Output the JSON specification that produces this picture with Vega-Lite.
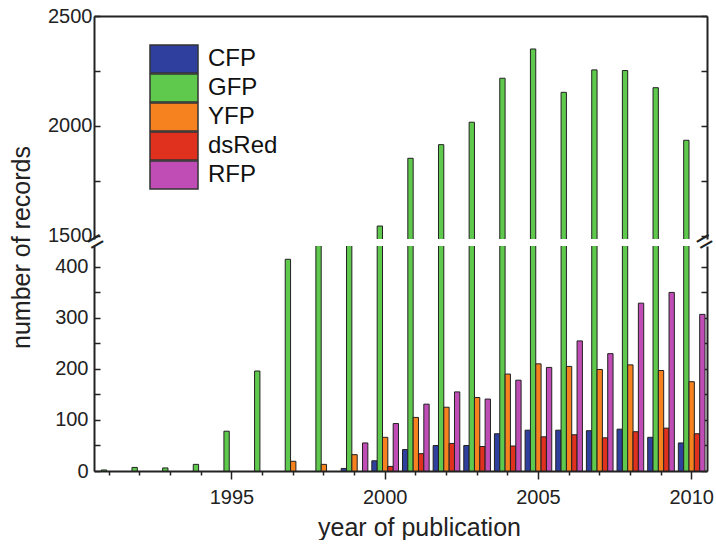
{
  "$schema": "https://vega.github.io/schema/vega-lite/v6.json",
  "padding": {"left": 9, "top": 6, "right": 5, "bottom": 0},
  "bounds": "flush",
  "spacing": 7,
  "config": {
    "view": {"stroke": null},
    "font": "Liberation Sans",
    "axis": {"domainColor": "#222", "tickColor": "#222", "labelColor": "#222", "titleColor": "#222", "labelFont": "Liberation Sans", "titleFont": "Liberation Sans", "titleFontWeight": "normal", "grid": false, "domainWidth": 2, "tickWidth": 1.5}
  },
  "datasets": {
    "rec": [
      {"year": 1999, "series": "CFP", "count": 5},
      {"year": 2000, "series": "CFP", "count": 20},
      {"year": 2001, "series": "CFP", "count": 42},
      {"year": 2002, "series": "CFP", "count": 50},
      {"year": 2003, "series": "CFP", "count": 50},
      {"year": 2004, "series": "CFP", "count": 73},
      {"year": 2005, "series": "CFP", "count": 80},
      {"year": 2006, "series": "CFP", "count": 80},
      {"year": 2007, "series": "CFP", "count": 79},
      {"year": 2008, "series": "CFP", "count": 82},
      {"year": 2009, "series": "CFP", "count": 66},
      {"year": 2010, "series": "CFP", "count": 55},
      {"year": 1991, "series": "GFP", "count": 2},
      {"year": 1992, "series": "GFP", "count": 7},
      {"year": 1993, "series": "GFP", "count": 6},
      {"year": 1994, "series": "GFP", "count": 13},
      {"year": 1995, "series": "GFP", "count": 78},
      {"year": 1996, "series": "GFP", "count": 196},
      {"year": 1997, "series": "GFP", "count": 415},
      {"year": 1998, "series": "GFP", "count": 780},
      {"year": 1999, "series": "GFP", "count": 1150},
      {"year": 2000, "series": "GFP", "count": 1545},
      {"year": 2001, "series": "GFP", "count": 1853},
      {"year": 2002, "series": "GFP", "count": 1915},
      {"year": 2003, "series": "GFP", "count": 2017},
      {"year": 2004, "series": "GFP", "count": 2217},
      {"year": 2005, "series": "GFP", "count": 2350},
      {"year": 2006, "series": "GFP", "count": 2153},
      {"year": 2007, "series": "GFP", "count": 2255},
      {"year": 2008, "series": "GFP", "count": 2252},
      {"year": 2009, "series": "GFP", "count": 2174},
      {"year": 2010, "series": "GFP", "count": 1935},
      {"year": 1997, "series": "YFP", "count": 19},
      {"year": 1998, "series": "YFP", "count": 13},
      {"year": 1999, "series": "YFP", "count": 32},
      {"year": 2000, "series": "YFP", "count": 66},
      {"year": 2001, "series": "YFP", "count": 105},
      {"year": 2002, "series": "YFP", "count": 125},
      {"year": 2003, "series": "YFP", "count": 144},
      {"year": 2004, "series": "YFP", "count": 190},
      {"year": 2005, "series": "YFP", "count": 210},
      {"year": 2006, "series": "YFP", "count": 205},
      {"year": 2007, "series": "YFP", "count": 199},
      {"year": 2008, "series": "YFP", "count": 208},
      {"year": 2009, "series": "YFP", "count": 197},
      {"year": 2010, "series": "YFP", "count": 175},
      {"year": 2000, "series": "dsRed", "count": 9},
      {"year": 2001, "series": "dsRed", "count": 34},
      {"year": 2002, "series": "dsRed", "count": 54},
      {"year": 2003, "series": "dsRed", "count": 48},
      {"year": 2004, "series": "dsRed", "count": 49},
      {"year": 2005, "series": "dsRed", "count": 67},
      {"year": 2006, "series": "dsRed", "count": 71},
      {"year": 2007, "series": "dsRed", "count": 65},
      {"year": 2008, "series": "dsRed", "count": 77},
      {"year": 2009, "series": "dsRed", "count": 84},
      {"year": 2010, "series": "dsRed", "count": 73},
      {"year": 1999, "series": "RFP", "count": 55},
      {"year": 2000, "series": "RFP", "count": 93},
      {"year": 2001, "series": "RFP", "count": 131},
      {"year": 2002, "series": "RFP", "count": 155},
      {"year": 2003, "series": "RFP", "count": 141},
      {"year": 2004, "series": "RFP", "count": 178},
      {"year": 2005, "series": "RFP", "count": 203},
      {"year": 2006, "series": "RFP", "count": 255},
      {"year": 2007, "series": "RFP", "count": 230},
      {"year": 2008, "series": "RFP", "count": 329},
      {"year": 2009, "series": "RFP", "count": 350},
      {"year": 2010, "series": "RFP", "count": 307}
    ]
  },
  "vconcat": [
    {
      "width": 613,
      "height": 223,
      "data": {"name": "rec"},
      "layer": [
        {
          "transform": [{"filter": "datum.count > 1486"}],
          "mark": {"type": "bar", "clip": true, "stroke": "#222", "strokeWidth": 1},
          "encoding": {
            "x": {"field": "year", "type": "ordinal",
              "scale": {"domain": [1991,1992,1993,1994,1995,1996,1997,1998,1999,2000,2001,2002,2003,2004,2005,2006,2007,2008,2009,2010], "paddingInner": 0.13, "paddingOuter": 0.065},
              "axis": {"orient": "top", "ticks": false, "labels": false, "title": null}},
            "xOffset": {"field": "series", "type": "nominal", "scale": {"domain": ["CFP", "GFP", "YFP", "dsRed", "RFP"]}},
            "y": {"field": "count", "type": "quantitative",
              "scale": {"domain": [1486, 2500], "nice": false, "zero": false},
              "axis": {"values": [1500, 1750, 2000, 2250, 2500], "format": "d", "labelExpr": "datum.value % 500 === 0 ? datum.label : ''", "tickSize": -6, "labelPadding": 8, "labelFontSize": 20, "title": "number of records", "titleFontSize": 25, "titleX": -73, "titleY": 231, "titleAngle": -90, "titleAlign": "center", "titleBaseline": "middle"}},
            "color": {"field": "series", "type": "nominal",
              "scale": {"domain": ["CFP", "GFP", "YFP", "dsRed", "RFP"], "range": ["#2e3f9e", "#5ec94c", "#f5821f", "#e0301e", "#c04db5"]},
              "legend": {"orient": "none", "legendX": 68, "legendY": 31, "direction": "vertical", "title": null, "padding": 0, "symbolType": "M-4,-2.33L4,-2.33L4,2.33L-4,2.33Z", "symbolSize": 144, "symbolStrokeColor": "#333", "symbolStrokeWidth": 1.5, "symbolOpacity": 1, "labelFontSize": 24, "labelFont": "Liberation Sans", "labelColor": "#111", "labelOffset": 22, "rowPadding": -26}}
          }
        },
        {
          "transform": [{"filter": "datum.count > 1486"}],
          "mark": {"type": "rule", "opacity": 0},
          "encoding": {
            "y": {"field": "count", "type": "quantitative",
              "scale": {"domain": [1486, 2500], "nice": false, "zero": false},
              "axis": {"orient": "right", "values": [1500, 1750, 2000, 2250, 2500], "labels": false, "tickSize": -6, "title": null}}
          }
        }
      ],
      "resolve": {"axis": {"y": "independent"}}
    },
    {
      "width": 613,
      "height": 225,
      "data": {"name": "rec"},
      "layer": [
        {
          "mark": {"type": "bar", "clip": true, "stroke": "#222", "strokeWidth": 1},
          "encoding": {
            "x": {"field": "year", "type": "ordinal",
              "scale": {"domain": [1991,1992,1993,1994,1995,1996,1997,1998,1999,2000,2001,2002,2003,2004,2005,2006,2007,2008,2009,2010], "paddingInner": 0.13, "paddingOuter": 0.065},
              "axis": {"orient": "bottom", "labelExpr": "datum.value % 5 === 0 ? datum.label : ''", "labelOverlap": false, "labelAngle": 0, "labelFontSize": 20, "labelPadding": 8, "tickSize": {"condition": {"test": "datum.value % 5 === 0", "value": 8}, "value": 4}, "title": "year of publication", "titleFontSize": 25, "titlePadding": 8, "titleX": 325}},
            "xOffset": {"field": "series", "type": "nominal", "scale": {"domain": ["CFP", "GFP", "YFP", "dsRed", "RFP"]}},
            "y": {"field": "count", "type": "quantitative",
              "scale": {"domain": [0, 441], "nice": false},
              "axis": {"values": [0, 50, 100, 150, 200, 250, 300, 350, 400], "format": "d", "labelExpr": "datum.value % 100 === 0 ? datum.label : ''", "tickSize": -6, "labelPadding": 12, "labelFontSize": 20, "title": null}},
            "color": {"field": "series", "type": "nominal",
              "scale": {"domain": ["CFP", "GFP", "YFP", "dsRed", "RFP"], "range": ["#2e3f9e", "#5ec94c", "#f5821f", "#e0301e", "#c04db5"]},
              "legend": null}
          }
        },
        {
          "transform": [{"filter": "datum.count <= 441"}],
          "mark": {"type": "rule", "opacity": 0},
          "encoding": {
            "y": {"field": "count", "type": "quantitative",
              "scale": {"domain": [0, 441], "nice": false},
              "axis": {"orient": "right", "values": [0, 50, 100, 150, 200, 250, 300, 350, 400], "labels": false, "tickSize": -6, "title": null}}
          }
        },
        {
          "data": {"values": [{"side": "left"}]},
          "mark": {"type": "text", "text": "=", "fontSize": 28, "angle": -30, "align": "center", "baseline": "middle", "color": "#222"},
          "encoding": {
            "x": {"datum": 1991, "type": "ordinal", "bandPosition": 0},
            "y": {"datum": 448, "type": "quantitative", "axis": null}
          }
        },
        {
          "data": {"values": [{"side": "right"}]},
          "mark": {"type": "text", "text": "=", "fontSize": 28, "angle": -30, "align": "center", "baseline": "middle", "color": "#222"},
          "encoding": {
            "x": {"datum": 2010, "type": "ordinal", "bandPosition": 1},
            "y": {"datum": 448, "type": "quantitative", "axis": null}
          }
        }
      ],
      "resolve": {"axis": {"y": "independent"}}
    }
  ]
}
